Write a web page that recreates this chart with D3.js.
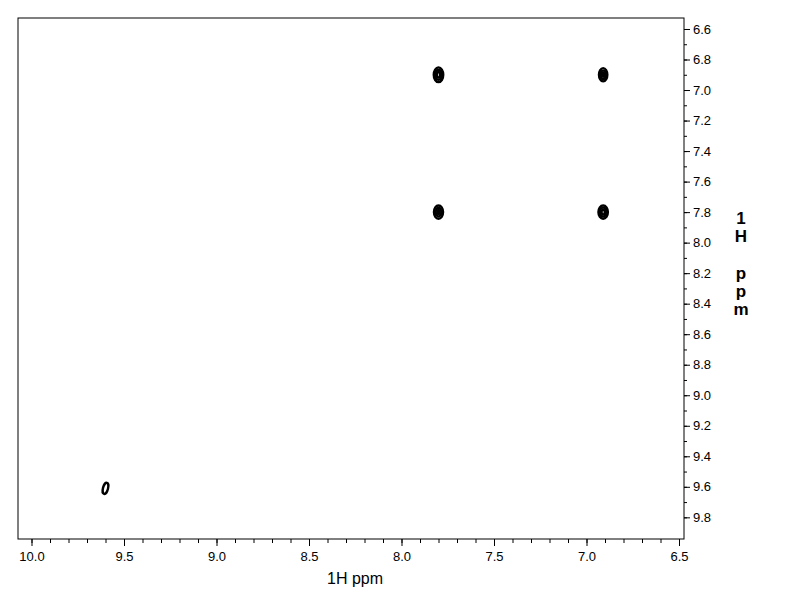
<!DOCTYPE html>
<html><head><meta charset="utf-8">
<script src="https://cdn.jsdelivr.net/npm/d3@7"></script>
<style>body{margin:0;background:#fff}svg{display:block}</style>
</head><body>
<svg id="c" width="792" height="612"></svg>
<script>
// Data
const xTicks = [10.0, 9.5, 9.0, 8.5, 8.0, 7.5, 7.0, 6.5];
const yTicks = [6.6, 6.8, 7.0, 7.2, 7.4, 7.6, 7.8, 8.0, 8.2, 8.4, 8.6, 8.8, 9.0, 9.2, 9.4, 9.6, 9.8];
const peakF2 = [7.80, 6.91, 7.80, 6.91, 9.60];   // x ppm
const peakF1 = [6.90, 6.90, 7.80, 7.80, 9.61];   // y ppm
const peakW  = [0.062, 0.056, 0.060, 0.062, 0.038]; // ppm width
const peakH  = [0.110, 0.100, 0.100, 0.100, 0.088]; // ppm height
const peakTilt = [0, 0, 0, 0, 15];
const peakLevels = [[1.0, 0.72, 0.45], [1.0, 0.7, 0.4], [1.0, 0.7, 0.4], [1.0, 0.72, 0.45], [1.0]];

const svg = d3.select("#c");
const L = 18, R = 684, T = 18, B = 539;
const x = d3.scaleLinear().domain([10.073, 6.473]).range([L, R]);
const y = d3.scaleLinear().domain([6.528, 9.942]).range([T, B]);

svg.append("rect").attr("x", L).attr("y", T).attr("width", R - L).attr("height", B - T)
  .attr("fill", "none").attr("stroke", "#000").attr("stroke-width", 1);

// x axis
const xAxis = d3.axisBottom(x).tickValues(d3.range(65, 101).map(v => v / 10))
  .tickSize(4).tickFormat("");
svg.append("g").attr("transform", `translate(0,${B})`).call(xAxis)
  .call(g => g.select(".domain").remove());
const xMaj = d3.axisBottom(x).tickValues(xTicks).tickSize(7).tickFormat(d3.format(".1f"));
svg.append("g").attr("transform", `translate(0,${B})`).call(xMaj)
  .call(g => g.select(".domain").remove())
  .call(g => g.selectAll("text").attr("font-family", "Liberation Sans, Arial, sans-serif")
    .attr("font-size", 13).attr("fill", "#000").attr("dy", "0.95em"));

// y axis
const yMinor = d3.axisRight(y).tickValues(d3.range(66, 99).map(v => v / 10)).tickSize(3).tickFormat("");
svg.append("g").attr("transform", `translate(${R},0)`).call(yMinor)
  .call(g => g.select(".domain").remove());
const yMaj = d3.axisRight(y).tickValues(yTicks).tickSize(6).tickFormat(d3.format(".1f"));
svg.append("g").attr("transform", `translate(${R},0)`).call(yMaj)
  .call(g => g.select(".domain").remove())
  .call(g => g.selectAll("text").attr("font-family", "Liberation Sans, Arial, sans-serif")
    .attr("font-size", 13).attr("fill", "#000").attr("x", 9));
svg.selectAll(".tick line").attr("stroke", "#000");

// labels
svg.append("text").attr("x", 355).attr("y", 584).attr("text-anchor", "middle")
  .attr("font-family", "Liberation Sans, Arial, sans-serif").attr("font-size", 16).text("1H ppm");
const vChars = ["1", "H", "", "p", "p", "m"];
vChars.forEach((ch, i) => {
  svg.append("text").attr("x", 741).attr("y", 224 + i * 18.2).attr("text-anchor", "middle")
    .attr("font-family", "Liberation Sans, Arial, sans-serif").attr("font-size", 17)
    .attr("font-weight", "bold").text(ch);
});

// peaks
const peaks = peakF2.map((v, i) => ({ f2: v, f1: peakF1[i], w: peakW[i], h: peakH[i], t: peakTilt[i], lv: peakLevels[i] }));
const pg = svg.append("g");
peaks.forEach(p => {
  const cx = x(p.f2), cy = y(p.f1);
  const rx = Math.abs(x(p.f2 + p.w / 2) - cx), ry = Math.abs(y(p.f1 + p.h / 2) - cy);
  p.lv.forEach(l => {
    pg.append("ellipse").attr("cx", cx).attr("cy", cy)
      .attr("rx", Math.max(rx * l - 1, 0.5)).attr("ry", Math.max(ry * l - 1, 0.5))
      .attr("transform", `rotate(${p.t},${cx},${cy})`)
      .attr("fill", "none").attr("stroke", "#000").attr("stroke-width", 2.4);
  });
});
</script>
</body></html>
